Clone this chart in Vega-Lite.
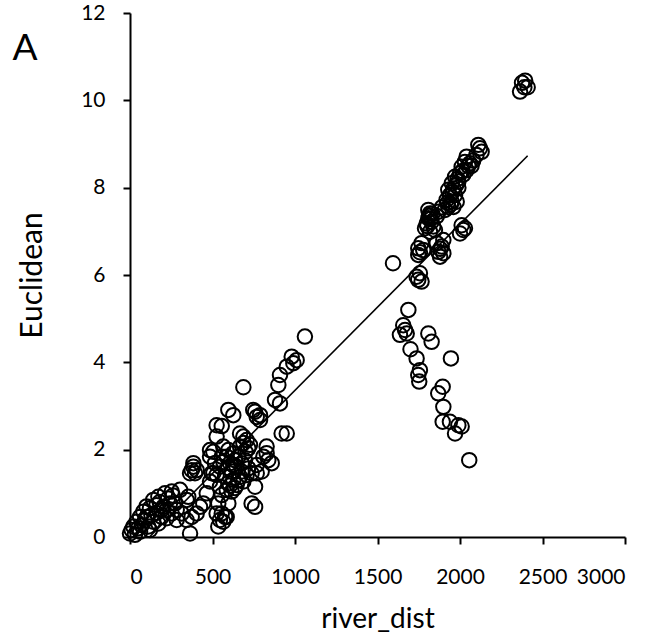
{
  "$schema": "https://vega.github.io/schema/vega-lite/v6.json",
  "width": 495,
  "height": 524,
  "autosize": "none",
  "padding": {"left": 130, "top": 13, "right": 32, "bottom": 104},
  "background": "white",
  "config": {
    "view": {"stroke": null},
    "font": "Lato",
    "axis": {
      "grid": false,
      "domainColor": "black",
      "domainWidth": 2,
      "tickColor": "black",
      "tickWidth": 2,
      "tickSize": 7,
      "labelColor": "black",
      "labelFont": "Lato",
      "labelFontSize": 21,
      "titleColor": "black",
      "titleFont": "Lato",
      "titleFontSize": 28,
      "titleFontWeight": "normal"
    }
  },
  "datasets": {
    "pts": [
      {"river_dist": 2364, "Euclidean": 10.2}, {"river_dist": 2376, "Euclidean": 10.4}, {"river_dist": 2395, "Euclidean": 10.45}, {"river_dist": 2410, "Euclidean": 10.3}, {"river_dist": 2390, "Euclidean": 10.3},
      {"river_dist": 2121, "Euclidean": 8.9}, {"river_dist": 2111, "Euclidean": 8.98}, {"river_dist": 2131, "Euclidean": 8.82},
      {"river_dist": 2040, "Euclidean": 8.71}, {"river_dist": 2030, "Euclidean": 8.59}, {"river_dist": 2060, "Euclidean": 8.56}, {"river_dist": 2010, "Euclidean": 8.48},
      {"river_dist": 2040, "Euclidean": 8.4}, {"river_dist": 2000, "Euclidean": 8.33}, {"river_dist": 1970, "Euclidean": 8.25}, {"river_dist": 1990, "Euclidean": 8.14},
      {"river_dist": 1950, "Euclidean": 8.1}, {"river_dist": 1960, "Euclidean": 7.98}, {"river_dist": 1929, "Euclidean": 7.95}, {"river_dist": 1939, "Euclidean": 7.83},
      {"river_dist": 1970, "Euclidean": 7.83}, {"river_dist": 1919, "Euclidean": 7.72}, {"river_dist": 1949, "Euclidean": 7.68}, {"river_dist": 1980, "Euclidean": 7.68},
      {"river_dist": 1929, "Euclidean": 7.56}, {"river_dist": 1960, "Euclidean": 7.56}, {"river_dist": 1909, "Euclidean": 7.49}, {"river_dist": 2080, "Euclidean": 8.62},
      {"river_dist": 2100, "Euclidean": 8.75}, {"river_dist": 2020, "Euclidean": 8.3}, {"river_dist": 1990, "Euclidean": 8.0},
      {"river_dist": 2050, "Euclidean": 8.5}, {"river_dist": 2015, "Euclidean": 8.38}, {"river_dist": 1985, "Euclidean": 8.2}, {"river_dist": 1955, "Euclidean": 7.9},
      {"river_dist": 1945, "Euclidean": 7.62}, {"river_dist": 1975, "Euclidean": 8.05}, {"river_dist": 2070, "Euclidean": 8.5}, {"river_dist": 1925, "Euclidean": 7.65},
      {"river_dist": 1818, "Euclidean": 7.41}, {"river_dist": 1808, "Euclidean": 7.3}, {"river_dist": 1828, "Euclidean": 7.22}, {"river_dist": 1798, "Euclidean": 7.18},
      {"river_dist": 1838, "Euclidean": 7.11}, {"river_dist": 1788, "Euclidean": 7.07}, {"river_dist": 1818, "Euclidean": 6.99}, {"river_dist": 1848, "Euclidean": 7.03},
      {"river_dist": 1808, "Euclidean": 7.49}, {"river_dist": 1870, "Euclidean": 7.45}, {"river_dist": 1890, "Euclidean": 7.55}, {"river_dist": 1860, "Euclidean": 7.35},
      {"river_dist": 1812, "Euclidean": 7.35}, {"river_dist": 1822, "Euclidean": 7.28}, {"river_dist": 1802, "Euclidean": 7.12}, {"river_dist": 1832, "Euclidean": 7.4},
      {"river_dist": 2010, "Euclidean": 7.14}, {"river_dist": 2020, "Euclidean": 7.03}, {"river_dist": 2000, "Euclidean": 6.95}, {"river_dist": 2030, "Euclidean": 7.07},
      {"river_dist": 1767, "Euclidean": 6.73}, {"river_dist": 1747, "Euclidean": 6.61}, {"river_dist": 1777, "Euclidean": 6.57}, {"river_dist": 1747, "Euclidean": 6.46},
      {"river_dist": 1899, "Euclidean": 6.8}, {"river_dist": 1889, "Euclidean": 6.65}, {"river_dist": 1869, "Euclidean": 6.53}, {"river_dist": 1899, "Euclidean": 6.5},
      {"river_dist": 1859, "Euclidean": 6.73}, {"river_dist": 1879, "Euclidean": 6.42}, {"river_dist": 1880, "Euclidean": 6.6}, {"river_dist": 1757, "Euclidean": 6.52},
      {"river_dist": 1757, "Euclidean": 6.04}, {"river_dist": 1747, "Euclidean": 5.89}, {"river_dist": 1767, "Euclidean": 5.85}, {"river_dist": 1737, "Euclidean": 5.96},
      {"river_dist": 1594, "Euclidean": 6.27},
      {"river_dist": 1687, "Euclidean": 5.2}, {"river_dist": 1656, "Euclidean": 4.85}, {"river_dist": 1667, "Euclidean": 4.74}, {"river_dist": 1636, "Euclidean": 4.63},
      {"river_dist": 1677, "Euclidean": 4.66}, {"river_dist": 1808, "Euclidean": 4.66}, {"river_dist": 1828, "Euclidean": 4.47}, {"river_dist": 1700, "Euclidean": 4.3},
      {"river_dist": 1737, "Euclidean": 4.09}, {"river_dist": 1945, "Euclidean": 4.09}, {"river_dist": 1757, "Euclidean": 3.82}, {"river_dist": 1747, "Euclidean": 3.71},
      {"river_dist": 1753, "Euclidean": 3.56}, {"river_dist": 1895, "Euclidean": 3.44}, {"river_dist": 1868, "Euclidean": 3.29}, {"river_dist": 1899, "Euclidean": 2.98},
      {"river_dist": 1895, "Euclidean": 2.64}, {"river_dist": 1939, "Euclidean": 2.64}, {"river_dist": 1990, "Euclidean": 2.56}, {"river_dist": 2010, "Euclidean": 2.53},
      {"river_dist": 1970, "Euclidean": 2.37}, {"river_dist": 2056, "Euclidean": 1.76},
      {"river_dist": 1060, "Euclidean": 4.59}, {"river_dist": 687, "Euclidean": 3.43}, {"river_dist": 1010, "Euclidean": 4.05}, {"river_dist": 980, "Euclidean": 4.13},
      {"river_dist": 990, "Euclidean": 3.98}, {"river_dist": 950, "Euclidean": 3.9}, {"river_dist": 909, "Euclidean": 3.71}, {"river_dist": 899, "Euclidean": 3.48},
      {"river_dist": 879, "Euclidean": 3.14}, {"river_dist": 909, "Euclidean": 3.06}, {"river_dist": 919, "Euclidean": 2.37}, {"river_dist": 950, "Euclidean": 2.37},
      {"river_dist": 596, "Euclidean": 2.91}, {"river_dist": 626, "Euclidean": 2.79}, {"river_dist": 758, "Euclidean": 2.87}, {"river_dist": 768, "Euclidean": 2.75},
      {"river_dist": 788, "Euclidean": 2.79}, {"river_dist": 525, "Euclidean": 2.56}, {"river_dist": 556, "Euclidean": 2.54}, {"river_dist": 525, "Euclidean": 2.3},
      {"river_dist": 687, "Euclidean": 2.3}, {"river_dist": 707, "Euclidean": 2.22}, {"river_dist": 717, "Euclidean": 2.03}, {"river_dist": 727, "Euclidean": 2.11},
      {"river_dist": 828, "Euclidean": 2.07}, {"river_dist": 505, "Euclidean": 1.95}, {"river_dist": 596, "Euclidean": 1.99}, {"river_dist": 626, "Euclidean": 1.92},
      {"river_dist": 656, "Euclidean": 1.84}, {"river_dist": 515, "Euclidean": 1.69}, {"river_dist": 545, "Euclidean": 1.61}, {"river_dist": 586, "Euclidean": 1.84},
      {"river_dist": 626, "Euclidean": 1.65}, {"river_dist": 808, "Euclidean": 1.84}, {"river_dist": 838, "Euclidean": 1.76}, {"river_dist": 859, "Euclidean": 1.69},
      {"river_dist": 768, "Euclidean": 1.46}, {"river_dist": 798, "Euclidean": 1.5}, {"river_dist": 384, "Euclidean": 1.61}, {"river_dist": 404, "Euclidean": 1.53},
      {"river_dist": 394, "Euclidean": 1.46}, {"river_dist": 485, "Euclidean": 1.27}, {"river_dist": 576, "Euclidean": 1.38}, {"river_dist": 596, "Euclidean": 1.23},
      {"river_dist": 626, "Euclidean": 1.31}, {"river_dist": 646, "Euclidean": 1.19}, {"river_dist": 667, "Euclidean": 1.38}, {"river_dist": 687, "Euclidean": 1.27},
      {"river_dist": 545, "Euclidean": 1.15}, {"river_dist": 556, "Euclidean": 0.96}, {"river_dist": 586, "Euclidean": 1.08}, {"river_dist": 616, "Euclidean": 1.04},
      {"river_dist": 758, "Euclidean": 1.15}, {"river_dist": 737, "Euclidean": 0.77}, {"river_dist": 758, "Euclidean": 0.69}, {"river_dist": 535, "Euclidean": 0.77},
      {"river_dist": 525, "Euclidean": 0.54}, {"river_dist": 545, "Euclidean": 0.39}, {"river_dist": 565, "Euclidean": 0.35}, {"river_dist": 535, "Euclidean": 0.24},
      {"river_dist": 576, "Euclidean": 0.46}, {"river_dist": 465, "Euclidean": 1.0}, {"river_dist": 444, "Euclidean": 0.77}, {"river_dist": 424, "Euclidean": 0.69},
      {"river_dist": 364, "Euclidean": 0.08}, {"river_dist": 374, "Euclidean": 0.46}, {"river_dist": 404, "Euclidean": 0.54}, {"river_dist": 343, "Euclidean": 0.39},
      {"river_dist": 283, "Euclidean": 0.39}, {"river_dist": 313, "Euclidean": 0.54}, {"river_dist": 273, "Euclidean": 0.77}, {"river_dist": 343, "Euclidean": 0.85},
      {"river_dist": 353, "Euclidean": 0.92}, {"river_dist": 303, "Euclidean": 1.08}, {"river_dist": 253, "Euclidean": 1.04}, {"river_dist": 212, "Euclidean": 1.0},
      {"river_dist": 172, "Euclidean": 0.92}, {"river_dist": 141, "Euclidean": 0.85}, {"river_dist": 161, "Euclidean": 0.73}, {"river_dist": 202, "Euclidean": 0.69},
      {"river_dist": 242, "Euclidean": 0.77}, {"river_dist": 121, "Euclidean": 0.66}, {"river_dist": 81, "Euclidean": 0.58}, {"river_dist": 101, "Euclidean": 0.46},
      {"river_dist": 61, "Euclidean": 0.46}, {"river_dist": 40, "Euclidean": 0.35}, {"river_dist": 20, "Euclidean": 0.24}, {"river_dist": 0, "Euclidean": 0.08},
      {"river_dist": 10, "Euclidean": 0.16}, {"river_dist": 30, "Euclidean": 0.05}, {"river_dist": 71, "Euclidean": 0.27}, {"river_dist": 111, "Euclidean": 0.24},
      {"river_dist": 141, "Euclidean": 0.35}, {"river_dist": 172, "Euclidean": 0.31}, {"river_dist": 192, "Euclidean": 0.46}, {"river_dist": 222, "Euclidean": 0.43},
      {"river_dist": 253, "Euclidean": 0.54}, {"river_dist": 121, "Euclidean": 0.16}, {"river_dist": 61, "Euclidean": 0.12}, {"river_dist": 192, "Euclidean": 0.62},
      {"river_dist": 222, "Euclidean": 0.62}, {"river_dist": 283, "Euclidean": 0.62}, {"river_dist": 364, "Euclidean": 1.46}, {"river_dist": 374, "Euclidean": 1.53},
      {"river_dist": 384, "Euclidean": 1.69}, {"river_dist": 485, "Euclidean": 1.84}, {"river_dist": 495, "Euclidean": 1.46}, {"river_dist": 525, "Euclidean": 1.42},
      {"river_dist": 616, "Euclidean": 1.5}, {"river_dist": 646, "Euclidean": 1.61}, {"river_dist": 677, "Euclidean": 1.69}, {"river_dist": 697, "Euclidean": 1.76},
      {"river_dist": 717, "Euclidean": 1.57}, {"river_dist": 737, "Euclidean": 1.46}, {"river_dist": 707, "Euclidean": 1.42}, {"river_dist": 768, "Euclidean": 1.65},
      {"river_dist": 596, "Euclidean": 0.77}, {"river_dist": 586, "Euclidean": 0.46}, {"river_dist": 556, "Euclidean": 0.54}, {"river_dist": 606, "Euclidean": 1.69},
      {"river_dist": 667, "Euclidean": 2.07}, {"river_dist": 687, "Euclidean": 2.15}, {"river_dist": 667, "Euclidean": 2.37}, {"river_dist": 747, "Euclidean": 2.91},
      {"river_dist": 788, "Euclidean": 2.68}, {"river_dist": 828, "Euclidean": 1.92}, {"river_dist": 485, "Euclidean": 1.99}, {"river_dist": 565, "Euclidean": 2.07},
      {"river_dist": 556, "Euclidean": 1.84}, {"river_dist": 505, "Euclidean": 1.46},
      {"river_dist": 636, "Euclidean": 1.12}, {"river_dist": 606, "Euclidean": 1.18}, {"river_dist": 656, "Euclidean": 1.3}, {"river_dist": 676, "Euclidean": 1.5},
      {"river_dist": 596, "Euclidean": 1.58}, {"river_dist": 636, "Euclidean": 1.76}, {"river_dist": 566, "Euclidean": 1.72}, {"river_dist": 700, "Euclidean": 1.95},
      {"river_dist": 90, "Euclidean": 0.38}, {"river_dist": 50, "Euclidean": 0.2}, {"river_dist": 160, "Euclidean": 0.55}, {"river_dist": 230, "Euclidean": 0.88},
      {"river_dist": 130, "Euclidean": 0.5}, {"river_dist": 180, "Euclidean": 0.8}, {"river_dist": 260, "Euclidean": 0.95}, {"river_dist": 100, "Euclidean": 0.7}
    ],
    "fit": [
      {"river_dist": 118, "Euclidean": 0.0},
      {"river_dist": 2410, "Euclidean": 8.73}
    ],
    "panel": [
      {"label": "A", "river_dist": -712, "Euclidean": 10.92}
    ]
  },
  "layer": [
    {
      "data": {"name": "pts"},
      "mark": {"type": "point", "shape": "circle", "filled": false, "stroke": "black", "strokeWidth": 2, "size": 210, "opacity": 1},
      "encoding": {
        "x": {"field": "river_dist", "type": "quantitative", "scale": {"domain": [0, 3000], "nice": false, "zero": true},
              "axis": {"values": [0, 500, 1000, 1500, 2000, 2500, 3000], "format": "d", "title": "river_dist", "labelPadding": 22, "titlePadding": 18}},
        "y": {"field": "Euclidean", "type": "quantitative", "scale": {"domain": [0, 12], "nice": false},
              "axis": {"values": [0, 2, 4, 6, 8, 10, 12], "format": "d", "title": "Euclidean", "labelPadding": 18, "titlePadding": 33, "titleFontSize": 30}}
      }
    },
    {
      "data": {"name": "fit"},
      "mark": {"type": "line", "color": "black", "strokeWidth": 1.6},
      "encoding": {
        "x": {"field": "river_dist", "type": "quantitative"},
        "y": {"field": "Euclidean", "type": "quantitative"}
      }
    },
    {
      "data": {"name": "panel"},
      "mark": {"type": "text", "align": "left", "baseline": "alphabetic", "font": "Lato", "fontSize": 37, "color": "black", "clip": false},
      "encoding": {
        "x": {"field": "river_dist", "type": "quantitative"},
        "y": {"field": "Euclidean", "type": "quantitative"},
        "text": {"field": "label"}
      }
    }
  ]
}
